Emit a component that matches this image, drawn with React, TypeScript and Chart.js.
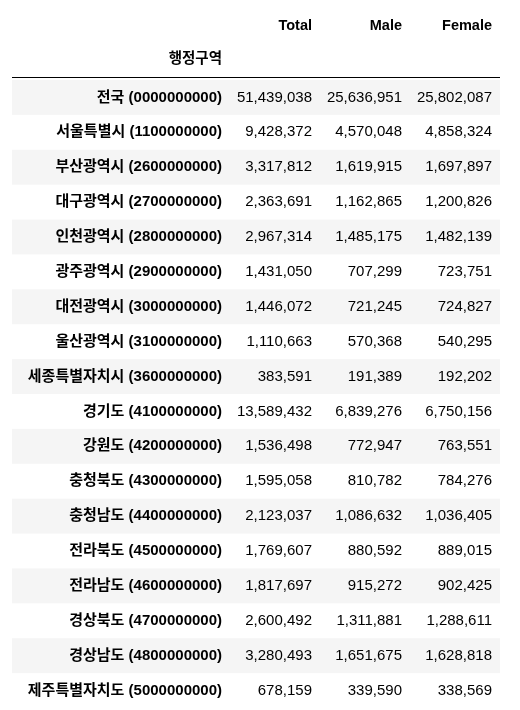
import { useEffect, useRef } from "react"
import { Chart, registerables } from "chart.js"

Chart.register(...registerables)

const columns = ["Total", "Male", "Female"]
const indexName = "행정구역"
const regions = [
  "전국 (0000000000)",
  "서울특별시 (1100000000)",
  "부산광역시 (2600000000)",
  "대구광역시 (2700000000)",
  "인천광역시 (2800000000)",
  "광주광역시 (2900000000)",
  "대전광역시 (3000000000)",
  "울산광역시 (3100000000)",
  "세종특별자치시 (3600000000)",
  "경기도 (4100000000)",
  "강원도 (4200000000)",
  "충청북도 (4300000000)",
  "충청남도 (4400000000)",
  "전라북도 (4500000000)",
  "전라남도 (4600000000)",
  "경상북도 (4700000000)",
  "경상남도 (4800000000)",
  "제주특별자치도 (5000000000)",
]
const total = [51439038, 9428372, 3317812, 2363691, 2967314, 1431050, 1446072, 1110663, 383591, 13589432, 1536498, 1595058, 2123037, 1769607, 1817697, 2600492, 3280493, 678159]
const male = [25636951, 4570048, 1619915, 1162865, 1485175, 707299, 721245, 570368, 191389, 6839276, 772947, 810782, 1086632, 880592, 915272, 1311881, 1651675, 339590]
const female = [25802087, 4858324, 1697897, 1200826, 1482139, 723751, 724827, 540295, 192202, 6750156, 763551, 784276, 1036405, 889015, 902425, 1288611, 1628818, 338569]

const FONT = '"Liberation Sans", Arial, "Noto Sans CJK KR", sans-serif'

export default function App() {
  const chartRef = useRef<HTMLCanvasElement>(null)

  useEffect(() => {
    document.body.style.margin = "0"
    if (!chartRef.current) return
    const series = [total, male, female]
    // right edges of the label column and the three value columns (x scale = pixels)
    const edges = [222, 312, 402, 492]

    const tablePlugin = {
      id: "table",
      beforeDraw(chart: Chart) {
        const { ctx, scales } = chart
        const x = scales.x
        const y = scales.y
        const band = (y.getPixelForValue(1) - y.getPixelForValue(0))
        ctx.save()
        regions.forEach((_, i) => {
          if (i % 2 === 0) {
            const cy = y.getPixelForValue(i)
            ctx.fillStyle = "#f5f5f5"
            ctx.fillRect(x.getPixelForValue(12), cy - band / 2, x.getPixelForValue(500) - x.getPixelForValue(12), band)
          }
        })
        ctx.strokeStyle = "#000"
        ctx.lineWidth = 1
        const top = chart.chartArea.top - 3
        ctx.beginPath()
        ctx.moveTo(x.getPixelForValue(12), top + 0.5)
        ctx.lineTo(x.getPixelForValue(500), top + 0.5)
        ctx.stroke()

        ctx.fillStyle = "#000"
        ctx.textAlign = "right"
        ctx.textBaseline = "middle"
        ctx.font = `bold 14.5px ${FONT}`
        columns.forEach((c, j) => ctx.fillText(c, x.getPixelForValue(edges[j + 1]), 26))
        ctx.fillText(indexName, x.getPixelForValue(edges[0]), 59)

        regions.forEach((r, i) => {
          const cy = y.getPixelForValue(i)
          ctx.font = `bold 15px ${FONT}`
          ctx.fillText(r, x.getPixelForValue(edges[0]), cy)
          ctx.font = `15px ${FONT}`
          series.forEach((s, j) => ctx.fillText(s[i].toLocaleString("en-US"), x.getPixelForValue(edges[j + 1]), cy))
        })
        ctx.restore()
      },
    }

    const chart = new Chart(chartRef.current, {
      type: "scatter",
      data: { labels: regions, datasets: [{ data: [], pointRadius: 0 }] },
      options: {
        responsive: false,
        animation: false,
        layout: { padding: { top: 80, bottom: 2, left: 0, right: 0 } },
        scales: {
          x: { type: "linear", min: 0, max: 520, display: false },
          y: { type: "category", labels: regions, offset: true, display: false },
        },
        plugins: { legend: { display: false }, tooltip: { enabled: false } },
      },
      plugins: [tablePlugin],
    })
    return () => chart.destroy()
  }, [])

  return (
    <div style={{ width: 520, height: 710, background: "#fff" }}>
      <canvas ref={chartRef} width={520} height={710} />
    </div>
  )
}
